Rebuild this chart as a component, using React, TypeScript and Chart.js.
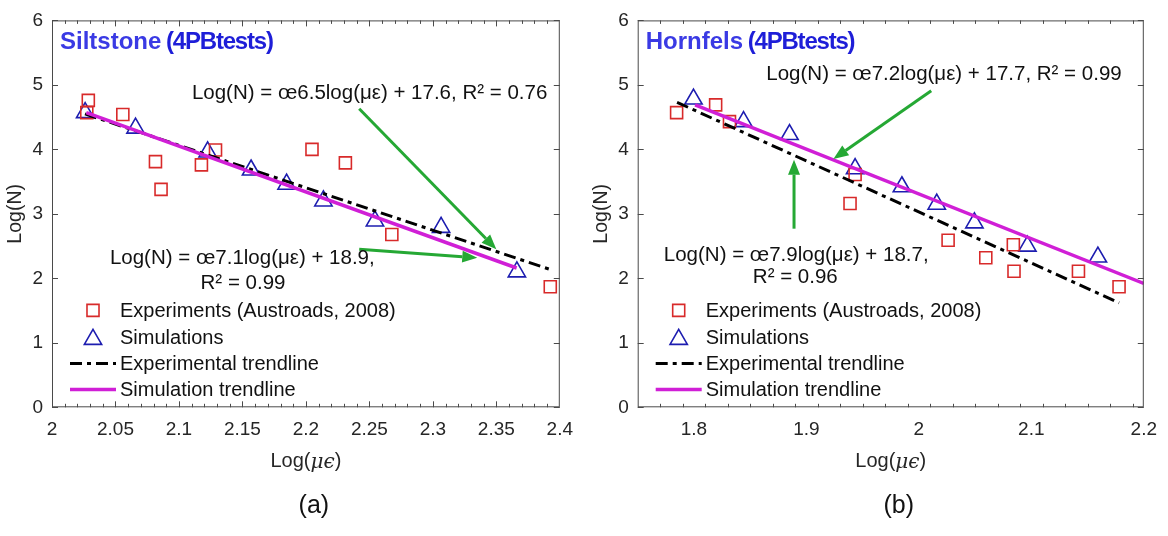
import { useEffect, useRef } from "react";
import { Chart, registerables } from "chart.js";
import { drawPoint } from "chart.js/helpers";

Chart.register(...registerables);

// ---- panel (a): Siltstone ----
const siltExpX = [2.0286, 2.0274, 2.0558, 2.0815, 2.0859, 2.1177, 2.1288, 2.2048, 2.2311, 2.2677, 2.3925];
const siltExpY = [4.76, 4.57, 4.54, 3.81, 3.38, 3.76, 3.99, 4.0, 3.79, 2.68, 1.87];
const siltSimX = [2.0261, 2.0658, 2.1226, 2.1568, 2.1848, 2.2138, 2.2544, 2.3065, 2.3662];
const siltSimY = [4.57, 4.33, 3.96, 3.68, 3.46, 3.2, 2.89, 2.79, 2.1];
const siltExpTrendX = [2.026, 2.392];
const siltExpTrendY = [4.55, 2.14];
const siltSimTrendX = [2.027, 2.366];
const siltSimTrendY = [4.57, 2.16];
const siltArrowFromX = [2.242, 2.242];
const siltArrowFromY = [4.63, 2.45];
const siltArrowToX = [2.35, 2.335];
const siltArrowToY = [2.45, 2.32];
const siltXTicks = [2, 2.05, 2.1, 2.15, 2.2, 2.25, 2.3, 2.35, 2.4];
const siltXTickLabels = ["2", "2.05", "2.1", "2.15", "2.2", "2.25", "2.3", "2.35", "2.4"];
const siltEquations = ["Log(N) = œ6.5log(με) + 17.6, R² = 0.76", "Log(N) = œ7.1log(με) + 18.9,", "R² = 0.99"];

// ---- panel (b): Hornfels ----
const hornExpX = [1.7846, 1.8193, 1.8316, 1.9433, 1.9388, 2.026, 2.0595, 2.084, 2.0846, 2.1419, 2.178];
const hornExpY = [4.57, 4.69, 4.43, 3.61, 3.16, 2.59, 2.32, 2.52, 2.11, 2.11, 1.87];
const hornSimX = [1.7996, 1.8441, 1.885, 1.9433, 1.9849, 2.0159, 2.0494, 2.0965, 2.1592];
const hornSimY = [4.78, 4.43, 4.23, 3.7, 3.42, 3.15, 2.86, 2.5, 2.33];
const hornExpTrendX = [1.785, 2.178];
const hornExpTrendY = [4.73, 1.62];
const hornSimTrendX = [1.801, 2.2];
const hornSimTrendY = [4.69, 1.92];
const hornArrowFromX = [2.011, 1.889];
const hornArrowFromY = [4.91, 2.77];
const hornArrowToX = [1.924, 1.889];
const hornArrowToY = [3.85, 3.84];
const hornXTicks = [1.8, 1.9, 2, 2.1, 2.2];
const hornXTickLabels = ["1.8", "1.9", "2", "2.1", "2.2"];
const hornEquations = ["Log(N) = œ7.2log(με) + 17.7, R² = 0.99", "Log(N) = œ7.9log(με) + 18.7,", "R² = 0.96"];

// ---- shared ----
const seriesNames = ["Experiments (Austroads, 2008)", "Simulations", "Experimental trendline", "Simulation trendline"];
const yTicks = [0, 1, 2, 3, 4, 5, 6];
const yTickLabels = ["0", "1", "2", "3", "4", "5", "6"];

const RED = "#d82a2a";
const BLUE = "#1d1db0";
const MAGENTA = "#d01fd6";
const GREEN = "#25a834";
const INK = "#262626";
const FONT = '"Liberation Sans", Arial, sans-serif';

interface PanelProps {
  left: number;
  areaLeft: number;
  padRight: number;
  xMin: number;
  xMax: number;
  minorStep: number;
  xTicks: number[];
  xTickLabels: string[];
  expX: number[];
  expY: number[];
  simX: number[];
  simY: number[];
  expTrendX: number[];
  expTrendY: number[];
  simTrendX: number[];
  simTrendY: number[];
  arrowFromX: number[];
  arrowFromY: number[];
  arrowToX: number[];
  arrowToY: number[];
  titleA: string;
  titleB: string;
  equations: string[];
  eqPos: number[][]; // offsets from chart area top-left (px)
  tag: string;
}

const pts = (xs: number[], ys: number[]) => xs.map((x, i) => ({ x, y: ys[i] }));

function decorPlugin(p: PanelProps) {
  return {
    id: "decor",
    afterDatasetsDraw(chart: Chart) {
      const { ctx } = chart;
      const xs = chart.scales.x;
      const ys = chart.scales.y;
      ctx.save();
      ctx.strokeStyle = GREEN;
      ctx.fillStyle = GREEN;
      ctx.lineWidth = 3;
      p.arrowFromX.forEach((fx, i) => {
        const x0 = xs.getPixelForValue(fx);
        const y0 = ys.getPixelForValue(p.arrowFromY[i]);
        const x1 = xs.getPixelForValue(p.arrowToX[i]);
        const y1 = ys.getPixelForValue(p.arrowToY[i]);
        const a = Math.atan2(y1 - y0, x1 - x0);
        const head = 15;
        const half = 6;
        const bx = x1 - head * Math.cos(a);
        const by = y1 - head * Math.sin(a);
        ctx.beginPath();
        ctx.moveTo(x0, y0);
        ctx.lineTo(bx, by);
        ctx.stroke();
        ctx.beginPath();
        ctx.moveTo(x1, y1);
        ctx.lineTo(bx + half * Math.sin(a), by - half * Math.cos(a));
        ctx.lineTo(bx - half * Math.sin(a), by + half * Math.cos(a));
        ctx.closePath();
        ctx.fill();
      });
      ctx.restore();
    },
    afterDraw(chart: Chart) {
      const { ctx, chartArea: ca } = chart;
      const xs = chart.scales.x;
      const ys = chart.scales.y;
      ctx.save();

      // box and inward ticks
      ctx.strokeStyle = "#4a4a4a";
      ctx.lineWidth = 1;
      ctx.strokeRect(ca.left + 0.5, ca.top + 0.5, ca.right - ca.left - 1, ca.bottom - ca.top - 1);
      ctx.beginPath();
      const nMinor = Math.round((p.xMax - p.xMin) / p.minorStep);
      for (let k = 1; k < nMinor; k++) {
        const v = p.xMin + k * p.minorStep;
        const isMajor = p.xTicks.some((t) => Math.abs(t - v) < 1e-6);
        const len = isMajor ? 6 : 3.5;
        const px = Math.round(xs.getPixelForValue(v)) + 0.5;
        ctx.moveTo(px, ca.bottom);
        ctx.lineTo(px, ca.bottom - len);
        ctx.moveTo(px, ca.top);
        ctx.lineTo(px, ca.top + len);
      }
      yTicks.forEach((t) => {
        const py = Math.round(ys.getPixelForValue(t)) + 0.5;
        ctx.moveTo(ca.left, py);
        ctx.lineTo(ca.left + 6, py);
        ctx.moveTo(ca.right, py);
        ctx.lineTo(ca.right - 6, py);
      });
      ctx.stroke();

      // panel title
      ctx.textBaseline = "middle";
      ctx.textAlign = "left";
      ctx.font = `bold 24px ${FONT}`;
      ctx.fillStyle = "#3a3ae4";
      const tx = ca.left + 8;
      const ty = ca.top + 22;
      ctx.fillText(p.titleA, tx, ty);
      const wA = ctx.measureText(p.titleA + " ").width;
      ctx.fillStyle = "#1e1ed8";
      (ctx as any).letterSpacing = "-1.2px";
      ctx.fillText(p.titleB, tx + wA - 2, ty);
      (ctx as any).letterSpacing = "0px";

      // equations
      ctx.fillStyle = "#111";
      ctx.font = `20.5px ${FONT}`;
      ctx.textAlign = "center";
      p.equations.forEach((s, i) => {
        ctx.fillText(s, ca.left + p.eqPos[i][0], ca.top + p.eqPos[i][1]);
      });

      // legend
      const rows = [290, 317, 343, 369];
      const ds = chart.data.datasets as any[];
      ctx.textAlign = "left";
      ctx.font = `20px ${FONT}`;
      rows.forEach((dy, i) => {
        const y = ca.top + dy;
        const d = ds[i];
        if (i < 2) {
          ctx.fillStyle = "rgba(0,0,0,0)";
          ctx.strokeStyle = d.borderColor;
          ctx.lineWidth = d.borderWidth;
          drawPoint(
            ctx,
            { pointStyle: d.pointStyle, radius: d.pointRadius, borderWidth: d.borderWidth, rotation: 0 } as any,
            ca.left + 41,
            y + (i === 1 ? 2 : 0),
          );
        } else {
          ctx.beginPath();
          ctx.strokeStyle = d.borderColor;
          ctx.lineWidth = d.borderWidth;
          ctx.setLineDash(d.borderDash || []);
          ctx.moveTo(ca.left + 18, y);
          ctx.lineTo(ca.left + 64, y);
          ctx.stroke();
          ctx.setLineDash([]);
        }
        ctx.fillStyle = "#111";
        ctx.fillText(d.label, ca.left + 68, y + 1);
      });

      // axis titles
      ctx.fillStyle = INK;
      ctx.font = `19.5px ${FONT}`;
      ctx.save();
      ctx.translate(ca.left - 36, (ca.top + ca.bottom) / 2);
      ctx.rotate(-Math.PI / 2);
      ctx.textAlign = "center";
      ctx.fillText("Log(N)", 0, 0);
      ctx.restore();

      const midX = (ca.left + ca.right) / 2;
      const ly = ca.bottom + 54;
      ctx.font = `20px ${FONT}`;
      const w1 = ctx.measureText("Log(").width;
      const w3 = ctx.measureText(")").width;
      ctx.font = `italic 20px "DejaVu Serif", serif`;
      const w2 = ctx.measureText("μϵ").width;
      let x = midX - (w1 + w2 + w3) / 2;
      ctx.textAlign = "left";
      ctx.font = `20px ${FONT}`;
      ctx.fillText("Log(", x, ly);
      x += w1;
      ctx.font = `italic 20px "DejaVu Serif", serif`;
      ctx.fillText("μϵ", x, ly + 1);
      x += w2;
      ctx.font = `20px ${FONT}`;
      ctx.fillText(")", x, ly);

      ctx.font = `25px ${FONT}`;
      ctx.fillStyle = "#111";
      ctx.textAlign = "center";
      ctx.fillText(p.tag, midX + 8, ca.bottom + 99);

      ctx.restore();
    },
  };
}

function Panel(p: PanelProps) {
  const canvasRef = useRef<HTMLCanvasElement | null>(null);

  useEffect(() => {
    if (!canvasRef.current) return;
    const chart = new Chart(canvasRef.current, {
      type: "scatter",
      data: {
        datasets: [
          {
            label: seriesNames[0],
            data: pts(p.expX, p.expY),
            pointStyle: "rect",
            pointRadius: 8.5,
            borderColor: RED,
            backgroundColor: "rgba(0,0,0,0)",
            borderWidth: 1.6,
            order: 2,
          },
          {
            label: seriesNames[1],
            data: pts(p.simX, p.simY),
            pointStyle: "triangle",
            pointRadius: 10,
            borderColor: BLUE,
            backgroundColor: "rgba(0,0,0,0)",
            borderWidth: 1.6,
            order: 2,
          },
          {
            label: seriesNames[2],
            data: pts(p.expTrendX, p.expTrendY),
            showLine: true,
            pointRadius: 0,
            borderColor: "#000",
            borderWidth: 3,
            borderDash: [12, 5, 4, 5],
            order: 1,
          },
          {
            label: seriesNames[3],
            data: pts(p.simTrendX, p.simTrendY),
            showLine: true,
            pointRadius: 0,
            borderColor: MAGENTA,
            borderWidth: 3.5,
            order: 0,
          },
        ],
      } as any,
      options: {
        animation: false,
        responsive: false,
        events: [],
        layout: { padding: { left: 0, right: p.padRight, top: 11.7, bottom: 0 } },
        plugins: { legend: { display: false }, tooltip: { enabled: false } },
        scales: {
          x: {
            type: "linear",
            min: p.xMin,
            max: p.xMax,
            grid: { display: false, drawTicks: false },
            border: { display: false },
            afterBuildTicks: (s: any) => {
              s.ticks = p.xTicks.map((v) => ({ value: v }));
            },
            afterFit: (s: any) => {
              s.height = 128.7;
            },
            ticks: {
              padding: 11,
              color: INK,
              maxRotation: 0,
              autoSkip: false,
              font: { family: FONT, size: 19 },
              callback: (_v: any, i: number) => p.xTickLabels[i],
            },
          },
          y: {
            type: "linear",
            min: 0,
            max: 6,
            grid: { display: false, drawTicks: false },
            border: { display: false },
            afterBuildTicks: (s: any) => {
              s.ticks = yTicks.map((v) => ({ value: v }));
            },
            afterFit: (s: any) => {
              s.width = p.areaLeft;
            },
            ticks: {
              padding: 9,
              color: INK,
              font: { family: FONT, size: 19 },
              callback: (_v: any, i: number) => yTickLabels[i],
            },
          },
        },
      } as any,
      plugins: [decorPlugin(p)],
    });
    return () => chart.destroy();
  }, []);

  return (
    <canvas
      ref={canvasRef}
      width={584}
      height={536}
      style={{ position: "absolute", left: p.left, top: 0, width: 584, height: 536 }}
    />
  );
}

export default function App() {
  return (
    <div style={{ position: "absolute", left: 0, top: 0, width: 1168, height: 536, background: "#fff", overflow: "hidden" }}>
      <Panel
        left={0}
        areaLeft={52}
        padRight={17.3}
        xMin={2}
        xMax={2.4}
        minorStep={0.01}
        xTicks={siltXTicks}
        xTickLabels={siltXTickLabels}
        expX={siltExpX}
        expY={siltExpY}
        simX={siltSimX}
        simY={siltSimY}
        expTrendX={siltExpTrendX}
        expTrendY={siltExpTrendY}
        simTrendX={siltSimTrendX}
        simTrendY={siltSimTrendY}
        arrowFromX={siltArrowFromX}
        arrowFromY={siltArrowFromY}
        arrowToX={siltArrowToX}
        arrowToY={siltArrowToY}
        titleA="Siltstone"
        titleB="(4PBtests)"
        equations={siltEquations}
        eqPos={[[317.6, 73.3], [190.3, 238.3], [191, 262.9]]}
        tag="(a)"
      />
      <Panel
        left={584}
        areaLeft={53.7}
        padRight={15.3}
        xMin={1.75}
        xMax={2.2}
        minorStep={0.02}
        xTicks={hornXTicks}
        xTickLabels={hornXTickLabels}
        expX={hornExpX}
        expY={hornExpY}
        simX={hornSimX}
        simY={hornSimY}
        expTrendX={hornExpTrendX}
        expTrendY={hornExpTrendY}
        simTrendX={hornSimTrendX}
        simTrendY={hornSimTrendY}
        arrowFromX={hornArrowFromX}
        arrowFromY={hornArrowFromY}
        arrowToX={hornArrowToX}
        arrowToY={hornArrowToY}
        titleA="Hornfels"
        titleB="(4PBtests)"
        equations={hornEquations}
        eqPos={[[306.3, 54.1], [158.5, 234.5], [157.6, 257.3]]}
        tag="(b)"
      />
    </div>
  );
}
